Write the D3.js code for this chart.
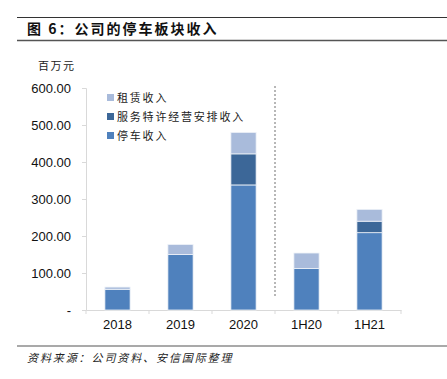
<!DOCTYPE html>
<html>
<head>
<meta charset="utf-8">
<script src="https://cdn.jsdelivr.net/npm/d3@7"></script>
<style>
  body { margin: 0; background: #fff; }
  svg { display: block; }
</style>
</head>
<body>
<div id="chart"></div>
<script>
const categories = ["2018", "2019", "2020", "1H20", "1H21"]
const parking = [56, 150, 338, 112, 209]
const service = [0, 0, 84, 0, 31]
const rental = [6, 27, 58, 42, 32]
const seriesNames = ["停车收入", "服务特许经营安排收入", "租赁收入"]
const yTicks = [0, 100, 200, 300, 400, 500, 600]

const width = 447, height = 379
const colors = ["#4f81bd", "#3c6798", "#a9bbdb"]

const svg = d3.select("#chart").append("svg")
    .attr("width", width)
    .attr("height", height)

// title block
svg.append("line").attr("x1", 17).attr("x2", width).attr("y1", 17.5).attr("y2", 17.5)
    .attr("stroke", "#333").attr("stroke-width", 1)
svg.append("line").attr("x1", 17).attr("x2", width).attr("y1", 40.5).attr("y2", 40.5)
    .attr("stroke", "#555").attr("stroke-width", 1.5)
svg.append("text")
    .attr("x", 27).attr("y", 34)
    .attr("font-family", "Noto Sans CJK SC")
    .attr("font-weight", "bold")
    .attr("font-size", 14)
    .attr("letter-spacing", 2)
    .attr("fill", "#111")
    .text("图 6：公司的停车板块收入")

svg.append("text")
    .attr("x", 38).attr("y", 70)
    .attr("font-family", "Noto Sans CJK SC")
    .attr("font-size", 11)
    .attr("letter-spacing", 1.5)
    .attr("fill", "#222")
    .text("百万元")

const x = d3.scaleBand().domain(categories).range([86, 401]).paddingInner(0.6).paddingOuter(0.3)
const y = d3.scaleLinear().domain([0, 600]).range([310, 88])

// axes
const yAxis = svg.append("g").attr("transform", "translate(86,0)")
    .call(d3.axisLeft(y).tickValues(yTicks).tickSize(4)
        .tickFormat(d => d === 0 ? "-" : d3.format(".2f")(d)))
yAxis.select(".domain").attr("stroke", "#d9d9d9")
yAxis.selectAll(".tick line").attr("stroke", "#d9d9d9")
yAxis.selectAll(".tick text")
    .attr("x", -15)
    .attr("font-family", "Liberation Sans, Arial, sans-serif")
    .attr("font-size", 13)
    .attr("fill", "#111")

const xAxis = svg.append("g").attr("transform", "translate(0,310)")
    .call(d3.axisBottom(x).tickSize(0).tickPadding(10))
xAxis.select(".domain").attr("stroke", "#d9d9d9")
xAxis.selectAll(".tick text")
    .attr("font-family", "Liberation Sans, Arial, sans-serif")
    .attr("font-size", 13)
    .attr("fill", "#111")
xAxis.selectAll("line.sep")
    .data(d3.range(categories.length + 1))
    .enter().append("line")
    .attr("x1", i => 86 + i * (315 / categories.length))
    .attr("x2", i => 86 + i * (315 / categories.length))
    .attr("y1", 0).attr("y2", 4)
    .attr("stroke", "#d9d9d9")

// stacked bars
const rows = categories.map((c, i) => ({cat: c, parking: parking[i], service: service[i], rental: rental[i]}))
const stack = d3.stack().keys(["parking", "service", "rental"])(rows)

svg.append("g")
    .selectAll("g")
    .data(stack)
    .enter().append("g")
    .attr("fill", (d, i) => colors[i])
    .selectAll("rect")
    .data(d => d.filter(s => s[1] > s[0]))
    .enter().append("rect")
    .attr("x", d => x(d.data.cat))
    .attr("width", x.bandwidth())
    .attr("y", d => y(d[1]))
    .attr("height", d => y(d[0]) - y(d[1]))
    .attr("stroke", "#eef2f8")
    .attr("stroke-width", 0.8)

// dotted divider between annual and half-year
const divX = 86 + 3 * (315 / categories.length)
svg.append("line")
    .attr("x1", divX).attr("x2", divX)
    .attr("y1", 86).attr("y2", 298)
    .attr("stroke", "#888")
    .attr("stroke-width", 1.2)
    .attr("stroke-dasharray", "2,2")

// legend
const legendItems = [2, 1, 0]
const legend = svg.append("g")
    .selectAll("g")
    .data(legendItems)
    .enter().append("g")
    .attr("transform", (d, i) => `translate(107, ${98 + i * 19})`)
legend.append("rect")
    .attr("x", 0).attr("y", -4).attr("width", 7).attr("height", 7)
    .attr("fill", d => colors[d])
legend.append("text")
    .attr("x", 10).attr("y", 4)
    .attr("font-family", "Noto Sans CJK SC")
    .attr("font-size", 11)
    .attr("letter-spacing", 1.8)
    .attr("fill", "#222")
    .text(d => seriesNames[d])

// source
svg.append("line").attr("x1", 17).attr("x2", width).attr("y1", 346).attr("y2", 346)
    .attr("stroke", "#555").attr("stroke-width", 1.2)
svg.append("text")
    .attr("x", 27).attr("y", 362)
    .attr("font-family", "Noto Sans CJK SC")
    .attr("font-size", 11)
    .attr("font-style", "italic")
    .attr("letter-spacing", 1.9)
    .attr("fill", "#222")
    .text("资料来源：公司资料、安信国际整理")
</script>
</body>
</html>
